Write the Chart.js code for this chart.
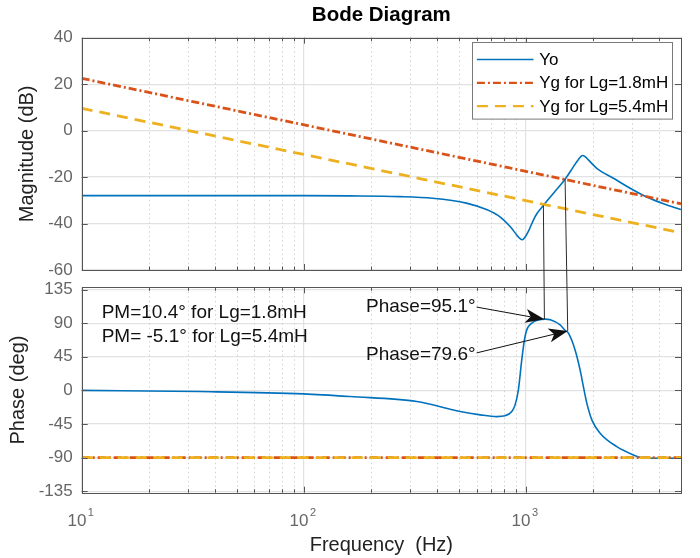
<!DOCTYPE html>
<html>
<head>
<meta charset="utf-8">
<script src="https://cdn.jsdelivr.net/npm/chart.js@4.4.1/dist/chart.umd.min.js"></script>
<style>
  html, body { margin: 0; padding: 0; background: #fff; }
  #marco { position: relative; width: 700px; height: 558px; overflow: hidden; }
  #marco canvas { position: absolute; left: 0; }
  #graficoFase { top: 265px; }
  #graficoMag { top: 0; }
  #capa { top: 0; pointer-events: none; }
</style>
</head>
<body>
<div id="marco">
  <canvas id="graficoFase" width="700" height="293"></canvas>
  <canvas id="graficoMag" width="700" height="290"></canvas>
  <canvas id="capa" width="700" height="558"></canvas>
</div>
<script>
// Datos (frecuencia en Hz)
const freqMagYo = [10, 30, 100, 160, 270, 380, 540, 670, 770, 850, 910, 940, 965, 990, 1027, 1082, 1121, 1200, 1350, 1503, 1640, 1720, 1800, 1850, 1914, 2088, 2481, 2950, 3508, 4169, 5000];
const magYo = [-28.0, -28.0, -28.0, -28.1, -28.4, -29.1, -31.2, -34.1, -37.3, -41.3, -44.9, -46.4, -47.0, -46.0, -43.4, -38.5, -35.8, -32.2, -26.3, -20.9, -15.5, -12.6, -10.7, -11.2, -12.6, -16.2, -20.5, -24.8, -28.6, -31.5, -34.0];

const freqFaseYo = [10, 34, 100, 162, 323, 506, 623, 740, 807, 865, 895, 926, 959, 986, 1010, 1064, 1140, 1222, 1290, 1427, 1503, 1556, 1667, 1756, 1817, 1883, 1983, 2161, 2570, 3052, 3273, 3631, 5000];
const faseYo = [0, -1.6, -4.7, -8.3, -15, -28.4, -32.8, -35.1, -34.1, -28.4, -19.4, 0.7, 40.8, 67.6, 81, 90, 94.4, 95.4, 94.5, 87.7, 80.5, 76.6, 54.2, 27.5, 5.1, -17.1, -39.5, -57.3, -75.3, -86.4, -89.5, -90.8, -90.8];

const freqYg = [10, 5000];
const magYg18 = [22.5, -31.5];
const magYg54 = [9.6, -44.0];
const faseYg18 = [-90, -90];
const faseYg54 = [-90, -90];

const etiquetas = ['Yo', 'Yg for Lg=1.8mH', 'Yg for Lg=5.4mH'];
const ticksDecadas = [10, 100, 1000];
const ticksMag = [-60, -40, -20, 0, 20, 40];
const ticksFase = [-135, -90, -45, 0, 45, 90, 135];

// Puntos de cruce |Yo| = |Yg| y fase correspondiente
const freqCruceMag = [1200, 1503];
const magCruce = [-32.2, -21.0];
const freqCruceFase = [1213, 1545];
const faseCruce = [95.1, 79.6];
const textosFase = ['Phase=95.1°', 'Phase=79.6°'];
const textosPM = ['PM=10.4° for Lg=1.8mH', 'PM= -5.1° for Lg=5.4mH'];

const FUENTE = '"Liberation Sans", Arial, Helvetica, sans-serif';
const GRIS_TICK = '#666666';
const GRIS_CAJA = '#555555';
const GRID = '#e2e2e2';
const COLORES = ['#0072BD', '#D95319', '#EDB120'];
const TRAZOS = [[], [8, 3, 2, 3], [11, 7]];

function puntos(xs, ys) {
    return xs.map((x, i) => ({ x: x, y: ys[i] }));
}

// ticks del eje log: 1..9 por decada
function ticksLog(min, max) {
    const lista = [];
    for (let dec = 10; dec <= max; dec *= 10) {
        for (let k = 1; k <= 9; k++) {
            const v = k * dec;
            if (v >= min && v <= max) lista.push(v);
        }
    }
    return lista;
}
const ticksX = ticksLog(10, 5000);

function crearDatasets(yo, yg18, yg54, freqYo) {
    const series = [puntos(freqYo, yo), puntos(freqYg, yg18), puntos(freqYg, yg54)];
    return series.map((data, i) => ({
        label: etiquetas[i],
        data: data,
        borderColor: COLORES[i],
        borderWidth: i === 0 ? 1.6 : 2.8,
        borderDash: TRAZOS[i],
        pointRadius: 0,
        fill: false,
        cubicInterpolationMode: 'monotone',
        order: 3 - i
    }));
}

// Rejilla menor punteada, caja y marcas hacia dentro
const cajaEjes = {
    id: 'cajaEjes',
    beforeDatasetsDraw(chart) {
        const { ctx, chartArea: a } = chart;
        const sx = chart.scales.x;
        ctx.save();
        ctx.strokeStyle = '#d2d2d2';
        ctx.lineWidth = 1;
        ctx.setLineDash([1.5, 3]);
        sx.ticks.forEach(t => {
            if (t.major) return;
            const x = Math.round(sx.getPixelForValue(t.value)) + 0.5;
            if (x >= a.right - 1) return;
            ctx.beginPath();
            ctx.moveTo(x, a.top);
            ctx.lineTo(x, a.bottom);
            ctx.stroke();
        });
        ctx.restore();
    },
    afterDatasetsDraw(chart) {
        const { ctx, chartArea: a } = chart;
        const sx = chart.scales.x;
        const sy = chart.scales.y;
        ctx.save();
        ctx.strokeStyle = GRIS_CAJA;
        ctx.lineWidth = 1;
        ctx.beginPath();
        sx.ticks.forEach(t => {
            const x = Math.round(sx.getPixelForValue(t.value)) + 0.5;
            const largo = t.major ? 6 : 3.5;
            ctx.moveTo(x, a.top); ctx.lineTo(x, a.top + largo);
            ctx.moveTo(x, a.bottom); ctx.lineTo(x, a.bottom - largo);
        });
        sy.ticks.forEach(t => {
            const y = Math.round(sy.getPixelForValue(t.value)) + 0.5;
            ctx.moveTo(a.left, y); ctx.lineTo(a.left + 6, y);
            ctx.moveTo(a.right, y); ctx.lineTo(a.right - 6, y);
        });
        ctx.stroke();
        ctx.strokeRect(Math.round(a.left) + 0.5, Math.round(a.top) + 0.5,
            Math.round(a.right) - Math.round(a.left), Math.round(a.bottom) - Math.round(a.top));
        ctx.restore();
    }
};

// Leyenda dentro del area, esquina superior derecha
const leyendaDentro = {
    id: 'leyendaDentro',
    afterDraw(chart) {
        const { ctx, chartArea: a } = chart;
        const x0 = Math.round(a.right - 208.7) + 0.5;
        const y0 = Math.round(a.top + 4) + 0.5;
        ctx.save();
        ctx.fillStyle = '#fff';
        ctx.fillRect(x0, y0, 200, 76.6);
        ctx.strokeStyle = '#7a7a7a';
        ctx.lineWidth = 1;
        ctx.strokeRect(x0, y0, 200, 76.6);
        ctx.font = '17px ' + FUENTE;
        ctx.textBaseline = 'middle';
        ctx.textAlign = 'left';
        chart.data.datasets.forEach((ds, i) => {
            const y = y0 + 17 + i * 23.3;
            ctx.beginPath();
            ctx.setLineDash(ds.borderDash || []);
            ctx.strokeStyle = ds.borderColor;
            ctx.lineWidth = Math.min(ds.borderWidth, 2.2);
            ctx.moveTo(x0 + 4.4, y);
            ctx.lineTo(x0 + 61, y);
            ctx.stroke();
            ctx.setLineDash([]);
            ctx.fillStyle = '#000';
            ctx.fillText(ds.label, x0 + 66.7, y + 1);
        });
        ctx.restore();
    }
};

function flecha(ctx, x1, y1, x2, y2) {
    const d = Math.hypot(x2 - x1, y2 - y1);
    const ux = (x2 - x1) / d, uy = (y2 - y1) / d;
    const nx = -uy, ny = ux;
    const L = 19, W = 7, muesca = 5;
    ctx.beginPath();
    ctx.moveTo(x1, y1);
    ctx.lineTo(x2 - ux * (L - muesca), y2 - uy * (L - muesca));
    ctx.stroke();
    ctx.beginPath();
    ctx.moveTo(x2, y2);
    ctx.lineTo(x2 - ux * L + nx * W, y2 - uy * L + ny * W);
    ctx.lineTo(x2 - ux * (L - muesca), y2 - uy * (L - muesca));
    ctx.lineTo(x2 - ux * L - nx * W, y2 - uy * L - ny * W);
    ctx.closePath();
    ctx.fill();
}

// Etiquetas 10^n, textos y flechas del diagrama de fase
const anotacionesFase = {
    id: 'anotacionesFase',
    afterDraw(chart) {
        const { ctx, chartArea: a } = chart;
        const sx = chart.scales.x;
        const sy = chart.scales.y;
        ctx.save();

        ticksDecadas.forEach(v => {
            const x = sx.getPixelForValue(v);
            const exp = String(Math.round(Math.log10(v)));
            ctx.font = '17px ' + FUENTE;
            const wb = ctx.measureText('10').width;
            ctx.font = '11px ' + FUENTE;
            const we = ctx.measureText(exp).width;
            const xi = x - (wb + 1.5 + we) / 2 - 1;
            ctx.fillStyle = GRIS_TICK;
            ctx.textAlign = 'left';
            ctx.textBaseline = 'alphabetic';
            ctx.font = '17px ' + FUENTE;
            ctx.fillText('10', xi, a.bottom + 33);
            ctx.font = '11px ' + FUENTE;
            ctx.fillText(exp, xi + wb + 1.5, a.bottom + 23.3);
        });

        ctx.font = '19px ' + FUENTE;
        ctx.fillStyle = '#111';
        ctx.textBaseline = 'middle';
        ctx.textAlign = 'left';
        const xPM = sx.getPixelForValue(12.3);
        ctx.fillText(textosPM[0], xPM, sy.getPixelForValue(103.4));
        ctx.fillText(textosPM[1], xPM, sy.getPixelForValue(72));

        const xTexto = sx.getPixelForValue(190.8);
        const yTextos = [sy.getPixelForValue(112.2), sy.getPixelForValue(47.5)];
        const dy = [0.5, -2];
        ctx.strokeStyle = '#111';
        ctx.lineWidth = 1;
        textosFase.forEach((t, i) => {
            ctx.fillText(t, xTexto, yTextos[i]);
            const xCola = xTexto + ctx.measureText(t).width + 1;
            const xPunta = sx.getPixelForValue(freqCruceFase[i]);
            const yPunta = sy.getPixelForValue(faseCruce[i]);
            flecha(ctx, xCola, yTextos[i] + dy[i], xPunta, yPunta);
        });
        ctx.restore();
    }
};

const opcionesBase = {
    responsive: false,
    animation: false,
    events: [],
    plugins: { legend: { display: false }, tooltip: { enabled: false } }
};

function escalaX(alto, titulo) {
    return {
        type: 'logarithmic',
        min: 10,
        max: 5000,
        afterBuildTicks: s => { s.ticks = ticksX.map(v => ({ value: v, major: ticksDecadas.includes(v) })); },
        afterFit: s => { s.height = alto; },
        ticks: { display: false },
        title: titulo,
        grid: {
            drawTicks: false,
            lineWidth: 1.2,
            color: c => (c.tick && c.tick.major) ? GRID : 'rgba(0,0,0,0)'
        },
        border: { display: false }
    };
}

function escalaY(min, max, ticks, titulo, pad) {
    return {
        min: min,
        max: max,
        afterBuildTicks: s => { s.ticks = ticks.map(v => ({ value: v })); },
        afterFit: s => { s.width = 81.7; },
        title: { display: true, text: titulo, color: '#222', font: { size: 20, family: FUENTE }, padding: { top: pad, bottom: 0 } },
        ticks: { color: GRIS_TICK, font: { size: 17, family: FUENTE }, padding: 9 },
        grid: { drawTicks: false, color: GRID, lineWidth: 1.2 },
        border: { display: false }
    };
}

const graficoMag = new Chart(document.getElementById('graficoMag'), {
    type: 'line',
    data: { datasets: crearDatasets(magYo, magYg18, magYg54, freqMagYo) },
    options: Object.assign({}, opcionesBase, {
        layout: { padding: { top: 0, right: 19, left: 0, bottom: 0 } },
        plugins: {
            legend: { display: false },
            tooltip: { enabled: false },
            title: {
                display: true,
                text: 'Bode Diagram',
                fullSize: false,
                color: '#000',
                font: { size: 20.5, weight: 'bold', family: FUENTE },
                padding: { top: 3, bottom: 10.1 }
            }
        },
        scales: {
            x: escalaX(20, { display: false }),
            y: escalaY(-60, 40, ticksMag, 'Magnitude (dB)', 15.5)
        }
    }),
    plugins: [cajaEjes, leyendaDentro]
});

const graficoFase = new Chart(document.getElementById('graficoFase'), {
    type: 'line',
    data: { datasets: crearDatasets(faseYo, faseYg18, faseYg54, freqFaseYo) },
    options: Object.assign({}, opcionesBase, {
        layout: { padding: { top: 22.3, right: 19, left: 0, bottom: 0 } },
        scales: {
            x: escalaX(65.3, {
                display: true,
                text: 'Frequency  (Hz)',
                color: '#222',
                font: { size: 20, family: FUENTE },
                padding: { top: 0, bottom: 1 }
            }),
            y: escalaY(-137, 138, ticksFase, 'Phase (deg)', 6)
        }
    }),
    plugins: [cajaEjes, anotacionesFase]
});

// Lineas que unen el cruce de magnitudes con la fase
function dibujarConectores() {
    const ctx = document.getElementById('capa').getContext('2d');
    const desplazamiento = 265;
    ctx.save();
    ctx.strokeStyle = '#2b2b2b';
    ctx.lineWidth = 1;
    freqCruceMag.forEach((f, i) => {
        const x1 = graficoMag.scales.x.getPixelForValue(f);
        const y1 = graficoMag.scales.y.getPixelForValue(magCruce[i]);
        const x2 = graficoFase.scales.x.getPixelForValue(freqCruceFase[i]);
        const y2 = graficoFase.scales.y.getPixelForValue(faseCruce[i]) + desplazamiento;
        ctx.beginPath();
        ctx.moveTo(x1, y1);
        ctx.lineTo(x2, y2);
        ctx.stroke();
    });
    ctx.restore();
}

dibujarConectores();
</script>
</body>
</html>
